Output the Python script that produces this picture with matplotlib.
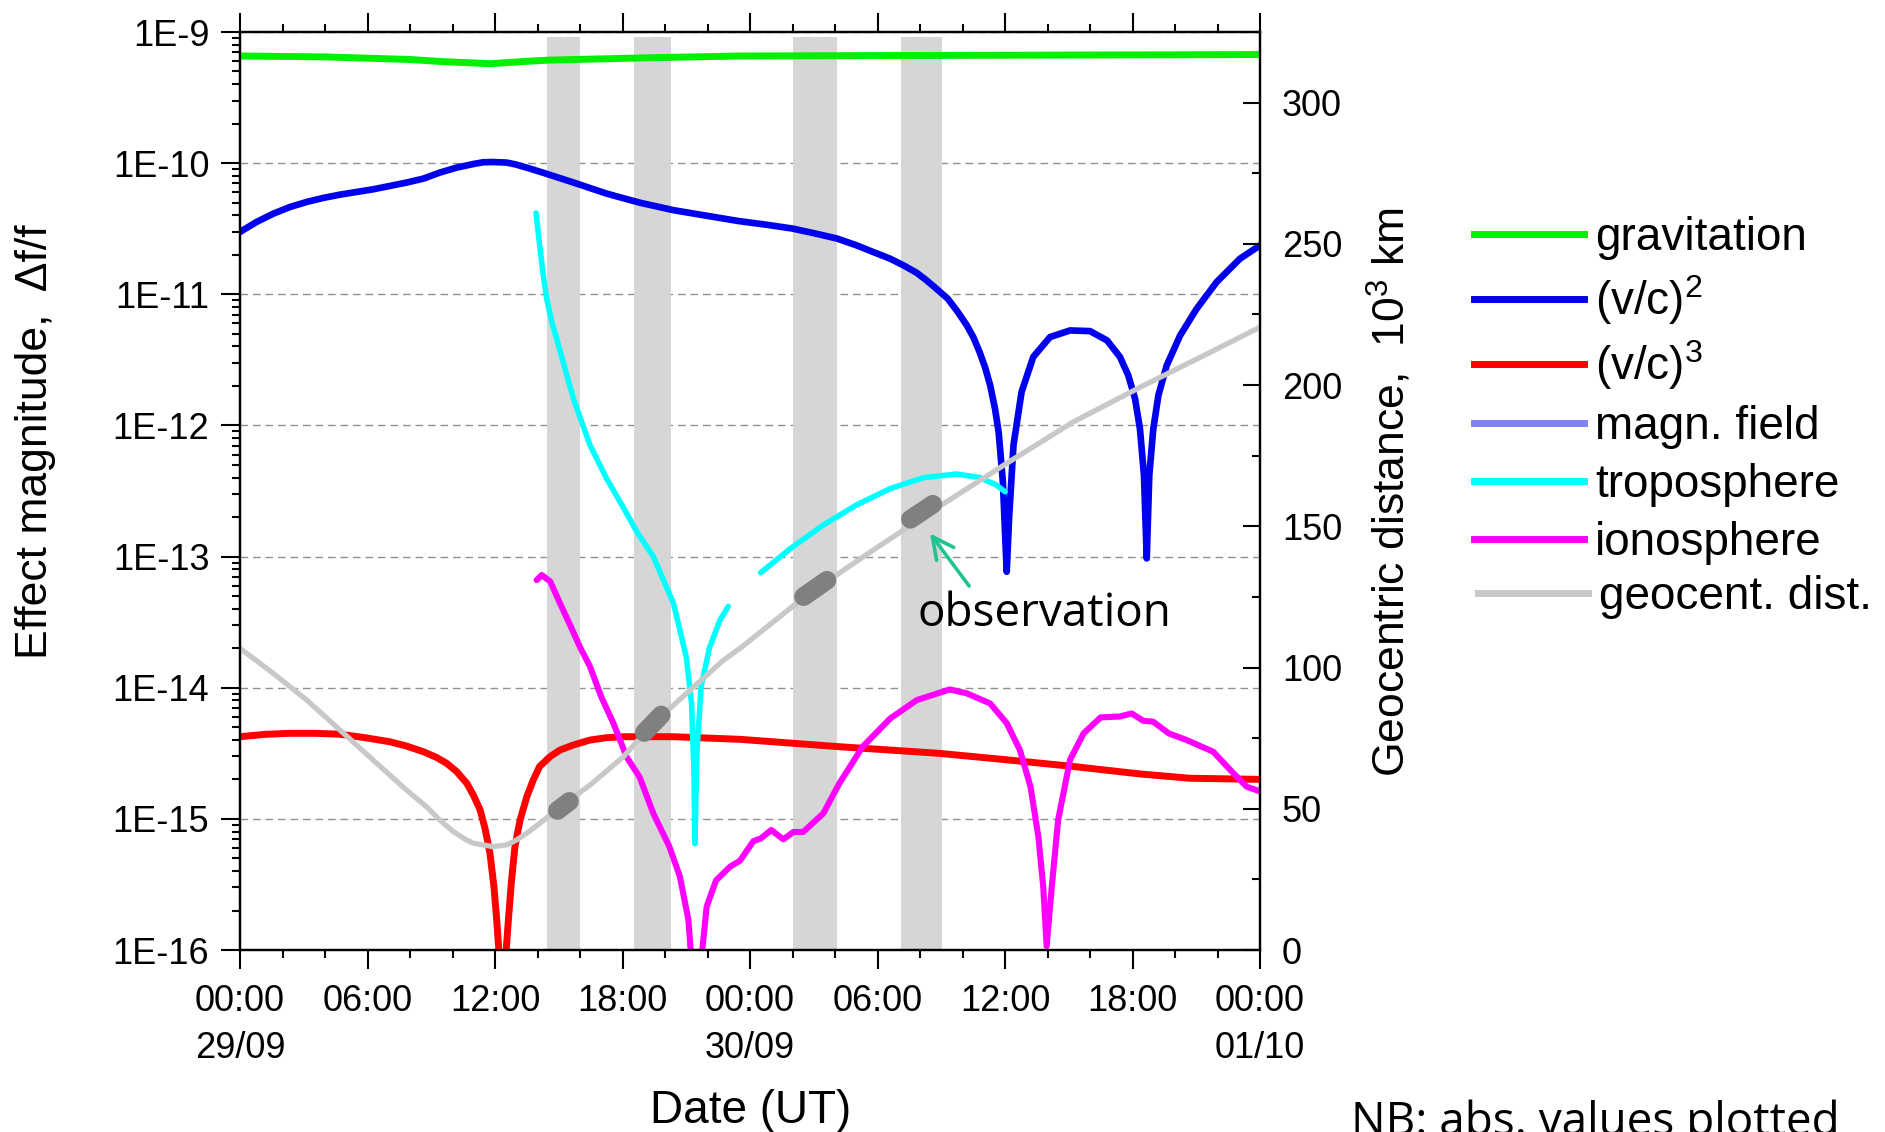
import numpy as np
import matplotlib
matplotlib.use("Agg")
import matplotlib.pyplot as plt
from matplotlib.lines import Line2D
from matplotlib.ticker import MultipleLocator, LogLocator, NullFormatter, FixedLocator

plt.rcParams['font.family'] = ['Liberation Sans', 'DejaVu Sans']
plt.rcParams['mathtext.fontset'] = 'custom'
plt.rcParams['mathtext.rm'] = 'Liberation Sans'

# time axis: hours since 29/09 00:00 UT
hour_ticks = [0, 6, 12, 18, 24, 30, 36, 42, 48]
hour_labels = ['00:00\n29/09', '06:00', '12:00', '18:00', '00:00\n30/09',
               '06:00', '12:00', '18:00', '00:00\n01/10']
mag_ticks = [1e-16, 1e-15, 1e-14, 1e-13, 1e-12, 1e-11, 1e-10, 1e-9]
mag_labels = ['1E-16', '1E-15', '1E-14', '1E-13', '1E-12', '1E-11', '1E-10', '1E-9']

# |df/f| of each effect
grav_t = [0, 4, 8, 9.5, 11.8, 13.3, 14.5, 19, 23.5, 30, 36, 48]
grav = [6.56e-10, 6.46e-10, 6.17e-10, 5.95e-10, 5.73e-10, 5.95e-10, 6.10e-10,
        6.35e-10, 6.56e-10, 6.61e-10, 6.65e-10, 6.73e-10]

vc2_t = [0, 0.78, 1.57, 2.35, 3.14, 3.92, 4.7, 6.27, 7.84, 8.63, 9.4, 10.2, 11.0, 11.45,
         11.9, 12.55, 13.0, 13.65, 14.4, 15.7, 17.25, 18.8, 20.4, 22.0, 23.5, 24.78,
         26.0, 26.98, 28.1, 29.02, 29.8, 30.59, 31.2, 31.84, 32.3, 32.78, 33.3, 33.73,
         34.2, 34.51, 34.8, 35.06, 35.3, 35.53, 35.7, 35.9, 36.08, 36.2, 36.4, 36.78,
         37.33, 38.12, 39.06, 40.0, 40.8, 41.41, 41.8, 42.12, 42.35, 42.54, 42.67,
         42.79, 42.98, 43.22, 43.61, 44.24, 45.02, 45.96, 47.06, 48]
vc2 = [2.99e-11, 3.56e-11, 4.12e-11, 4.63e-11, 5.06e-11, 5.43e-11, 5.75e-11, 6.32e-11,
       7.11e-11, 7.62e-11, 8.47e-11, 9.25e-11, 9.86e-11, 1.016e-10, 1.02e-10, 1.01e-10,
       9.75e-11, 9.08e-11, 8.32e-11, 7.11e-11, 5.86e-11, 5.00e-11, 4.38e-11, 3.96e-11,
       3.61e-11, 3.39e-11, 3.17e-11, 2.93e-11, 2.66e-11, 2.36e-11, 2.10e-11, 1.87e-11,
       1.67e-11, 1.46e-11, 1.28e-11, 1.10e-11, 9.27e-12, 7.52e-12, 5.81e-12, 4.71e-12,
       3.64e-12, 2.78e-12, 2.03e-12, 1.34e-12, 8.93e-13, 3.72e-13, 7.66e-14, 2.07e-13,
       7.08e-13, 1.80e-12, 3.33e-12, 4.72e-12, 5.30e-12, 5.24e-12, 4.45e-12, 3.33e-12,
       2.41e-12, 1.60e-12, 9.44e-13, 4.17e-13, 9.68e-14, 4.17e-13, 9.44e-13, 1.70e-12,
       2.87e-12, 4.85e-12, 7.76e-12, 1.24e-11, 1.87e-11, 2.36e-11]

vc3_t = [0, 1.18, 2.35, 3.53, 4.7, 5.88, 7.06, 7.84, 8.63, 9.25, 9.73, 10.2, 10.67, 10.98,
         11.3, 11.53, 11.76, 11.95, 12.08, 12.35, 12.63, 12.78, 12.94, 13.18, 13.5, 13.8,
         14.1, 14.59, 15.06, 15.69, 16.47, 17.25, 18.04, 20.4, 23.53, 28.2, 32.9, 36.08,
         39.2, 42.35, 44.7, 48]
vc3 = [4.23e-15, 4.41e-15, 4.49e-15, 4.49e-15, 4.42e-15, 4.16e-15, 3.87e-15, 3.59e-15,
       3.25e-15, 2.94e-15, 2.65e-15, 2.29e-15, 1.87e-15, 1.52e-15, 1.17e-15, 8.47e-16,
       5.5e-16, 3.04e-16, 1.70e-16, 4e-17, 1.70e-16, 3.42e-16, 6.17e-16, 9.8e-16,
       1.48e-15, 1.98e-15, 2.51e-15, 2.98e-15, 3.35e-15, 3.66e-15, 3.99e-15, 4.16e-15,
       4.23e-15, 4.23e-15, 4.04e-15, 3.55e-15, 3.16e-15, 2.82e-15, 2.51e-15, 2.20e-15,
       2.04e-15, 2.00e-15]

# troposphere, two passes
tropo1_t = [13.93, 14.12, 14.27, 14.43, 14.67, 14.9, 15.29, 15.69, 16.47, 17.25, 18.2,
            18.67, 19.45, 20.4, 21.0, 21.25, 21.36, 21.41, 21.5, 21.7, 22.1, 22.6, 22.98]
tropo1 = [4.17e-11, 2.23e-11, 1.40e-11, 9.27e-12, 6.17e-12, 4.60e-12, 2.72e-12, 1.60e-12,
          7.08e-13, 3.94e-13, 2.13e-13, 1.55e-13, 1.0e-13, 4.40e-14, 1.72e-14, 7.59e-15,
          2.34e-15, 6.46e-16, 3.16e-15, 1.02e-14, 2.04e-14, 3.31e-14, 4.17e-14]
tropo2_t = [24.5, 25.9, 27.45, 29.0, 30.6, 32.2, 33.73, 34.8, 35.6, 36.0]
tropo2 = [7.53e-14, 1.15e-13, 1.74e-13, 2.47e-13, 3.30e-13, 4.01e-13, 4.26e-13,
          4.01e-13, 3.51e-13, 3.12e-13]

iono_t = [13.96, 14.2, 14.6, 15.06, 15.5, 16.0, 16.47, 17.0, 17.57, 18.2, 18.8, 19.45,
          20.2, 20.7, 21.1, 21.45, 21.73, 21.96, 22.4, 23.06, 23.53, 24.16, 24.5, 25.0,
          25.57, 26.04, 26.5, 27.45, 28.2, 29.3, 30.6, 31.85, 33.4, 34.2, 35.3, 36.08,
          36.7, 37.2, 37.57, 37.8, 37.96, 38.2, 38.5, 39.06, 39.7, 40.5, 41.4, 41.96,
          42.5, 42.98, 43.7, 44.55, 45.8, 46.6, 47.37, 48]
iono = [6.62e-14, 7.23e-14, 6.46e-14, 4.40e-14, 3.09e-14, 2.04e-14, 1.45e-14, 8.53e-15,
        5.37e-15, 2.95e-15, 2.09e-15, 1.10e-15, 6.17e-16, 3.63e-16, 1.70e-16, 3e-17,
        9.1e-17, 2.14e-16, 3.39e-16, 4.32e-16, 4.8e-16, 6.76e-16, 7.08e-16, 8.22e-16,
        6.98e-16, 7.94e-16, 7.94e-16, 1.10e-15, 1.86e-15, 3.55e-15, 5.83e-15, 8.05e-15,
        9.70e-15, 9.06e-15, 7.59e-15, 5.37e-15, 3.35e-15, 1.76e-15, 7.31e-16, 3.02e-16,
        1.07e-16, 3.02e-16, 9.79e-16, 2.82e-15, 4.49e-15, 5.94e-15, 6.03e-15, 6.37e-15,
        5.60e-15, 5.50e-15, 4.49e-15, 3.99e-15, 3.25e-15, 2.36e-15, 1.76e-15, 1.62e-15]

# geocentric distance, 10^3 km
dist_t = [0, 1.57, 3.14, 4.7, 6.27, 7.84, 8.78, 9.4, 10.04, 10.67, 10.98, 11.9, 12.55,
          13.0, 13.49, 14.1, 15.2, 16.47, 18.04, 19.45, 21.18, 22.75, 23.53, 26.67, 29.8,
          32.9, 36.08, 39.2, 42.35, 45.5, 48]
dist = [106.8, 97.9, 88.5, 77.9, 67.2, 56.6, 50.7, 46.0, 41.9, 38.9, 37.8, 36.6, 37.2,
        38.9, 41.3, 44.8, 51.3, 58.4, 68.4, 80.2, 92.0, 102.6, 106.8, 125.6, 141.6,
        157.0, 172.3, 186.9, 199.2, 211.0, 220.5]

# observation sessions: shaded windows and the tracked arcs
windows = [(14.45, 15.98), (18.56, 20.3), (26.0, 28.1), (31.1, 33.02)]
obs_t = [(14.94, 15.5), (19.03, 19.82), (26.52, 27.62), (31.55, 32.6)]
obs_d = [(49.4, 52.6), (77.0, 83.2), (125.1, 130.9), (152.5, 157.8)]

W, H = 1885, 1132
def fx(px):
    return px / W
def fy(py):
    return 1 - py / H

fig = plt.figure(figsize=(W / 100, H / 100), dpi=100)
ax = fig.add_axes([fx(240), fy(950), 1020 / W, 918 / H])
ax2 = ax.twinx()

c_grav, c_vc2, c_vc3 = '#00f000', '#0000ee', '#ff0000'
c_magn, c_tropo, c_iono, c_dist = '#8080f8', '#00ffff', '#ff00ff', '#c8c8c8'

ax.set_axisbelow(True)
for a, b in windows:
    ax.axvspan(a, b, ymin=0, ymax=0.995, color='#d6d6d6', lw=0, zorder=1)

ax.plot(grav_t, grav, color=c_grav, lw=5, zorder=3)
ax.plot(vc2_t, vc2, color=c_vc2, lw=4.8, zorder=3)
ax.plot(vc3_t, vc3, color=c_vc3, lw=5, zorder=3)
ax.plot(tropo1_t, tropo1, color=c_tropo, lw=4, zorder=3, solid_capstyle='round')
ax.plot(tropo2_t, tropo2, color=c_tropo, lw=4, zorder=3, solid_capstyle='round')
ax.plot(iono_t, iono, color=c_iono, lw=4.4, zorder=3, solid_capstyle='round')

ax.set_yscale('log')
ax.set_ylim(1e-16, 1e-9)
ax.set_xlim(0, 48)
ax.yaxis.set_major_locator(FixedLocator(mag_ticks))
ax.set_yticklabels(mag_labels)
ax.yaxis.set_minor_locator(LogLocator(base=10, subs=range(2, 10), numticks=20))
ax.yaxis.set_minor_formatter(NullFormatter())
ax.set_xticks(hour_ticks, hour_labels)
ax.xaxis.set_minor_locator(MultipleLocator(2))
plt.setp(ax.get_xticklabels(), linespacing=1.45)
ax.yaxis.grid(True, which='major', color='#909090', lw=1.0, dashes=(5.5, 3.5))

ax.tick_params(which='both', direction='out', width=1.5, labelsize=26,
               top=True, right=False)
ax.tick_params(which='major', length=13.5)
ax.tick_params(which='minor', length=6)
ax.tick_params(axis='y', pad=8.6)
ax.tick_params(axis='x', pad=11)

ax2.plot(dist_t, dist, color=c_dist, lw=3.8, zorder=2)
for t, d in zip(obs_t, obs_d):
    ax2.plot(t, d, color='#808080', lw=13.5, solid_capstyle='round', zorder=3)
ax2.set_ylim(0, 325)
ax2.yaxis.set_major_locator(MultipleLocator(50))
ax2.yaxis.set_minor_locator(MultipleLocator(25))
ax2.tick_params(which='both', direction='in', width=1.5, labelsize=26, pad=15.8)
ax2.tick_params(which='major', length=12.5)
ax2.tick_params(which='minor', length=6)

for spine in list(ax.spines.values()) + list(ax2.spines.values()):
    spine.set_linewidth(1.6)

ax2.annotate('observation', xy=(32.47, 147.5), xytext=(31.86, 114.7),
             textcoords='data', ha='left', va='baseline', fontsize=33,
             family=['Open Sans', 'DejaVu Sans'], annotation_clip=False,
             arrowprops=dict(arrowstyle='->,head_length=0.7,head_width=0.35',
                             color='#1ec490', lw=2.6, mutation_scale=22,
                             shrinkA=2, shrinkB=0, relpos=(0.22, 1.0)))

fig.text(fx(47), fy(442), 'Effect magnitude,  \u0394f/f', rotation=90,
         rotation_mode='anchor', ha='center', va='baseline', fontsize=32)
fig.text(fx(1405), fy(492), r'Geocentric distance,  10$^\mathregular{3}$ km',
         rotation=90, rotation_mode='anchor', ha='center', va='baseline', fontsize=32)
fig.text(fx(751), fy(1123), 'Date (UT)', ha='center', va='baseline', fontsize=33)

# legend drawn by hand
entries = [('gravitation', c_grav), (r'(v/c)$^\mathregular{2}$', c_vc2),
           (r'(v/c)$^\mathregular{3}$', c_vc3), ('magn. field', c_magn),
           ('troposphere', c_tropo), ('ionosphere', c_iono), ('geocent. dist.', c_dist)]
rows = [234, 299, 364, 423, 481, 539, 593]
for (label, color), y in zip(entries, rows):
    x0 = 1478 if label.startswith('geocent') else 1474
    fig.add_artist(Line2D([fx(x0), fx(x0 + 110)], [fy(y), fy(y)], color=color,
                          lw=5, transform=fig.transFigure))
    fig.text(fx(x0 + 121), fy(y + 16), label, ha='left', va='baseline', fontsize=33)

fig.text(fx(1351), fy(1134.6), 'NB: abs. values plotted', ha='left', va='baseline',
         fontsize=33, family=['Open Sans', 'DejaVu Sans'])

fig.savefig('out.png', dpi=100)
